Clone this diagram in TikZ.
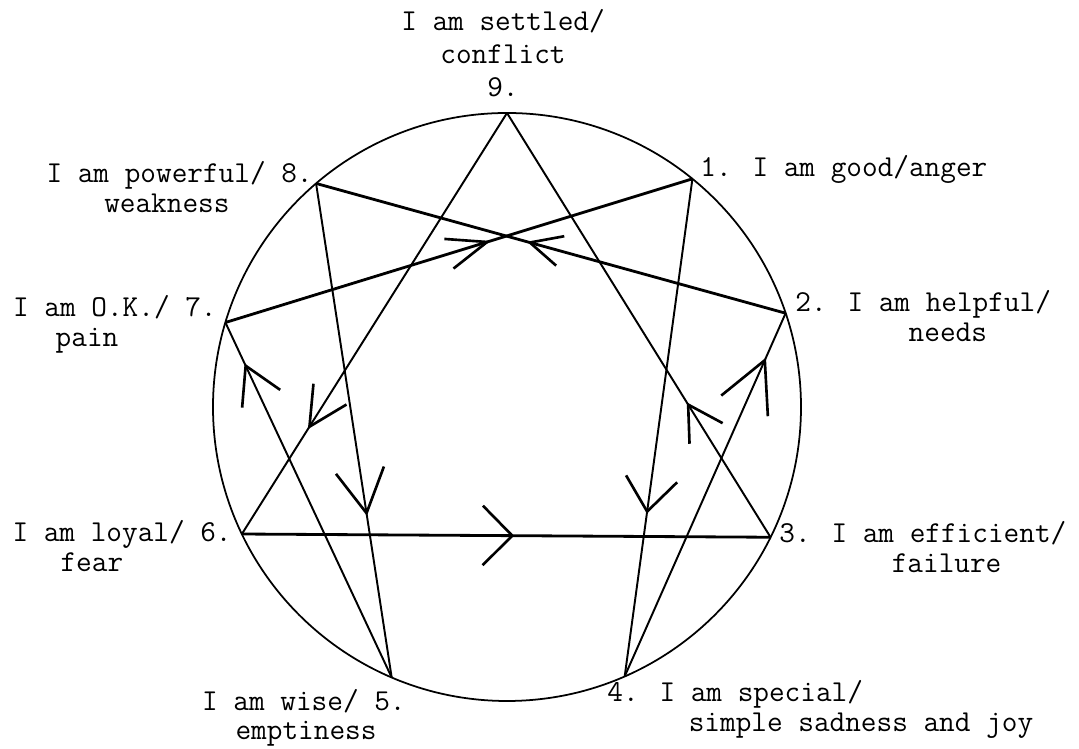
\documentclass[tikz,border=0pt]{standalone}
\usepackage{amsmath}
\usepackage{tikz}
\usetikzlibrary{arrows.meta,decorations.markings}

\tikzset{
  thinline/.style={line width=1.1pt},
  thickline/.style={line width=1.6pt},
  midbarb/.style n args={3}{postaction={decorate,decoration={markings,
      mark=at position #1 with {\arrow[line width=1.5pt,line cap=round]{Straight Barb[length=#2,width=#3]}}}}},
  ptext/.style={inner sep=0pt,font=\fontsize{17.3}{17.07}\selectfont\ttfamily}
}

\begin{document}
\begin{tikzpicture}[x=0.02cm,y=0.02cm]
	\useasboundingbox (0,0) rectangle (1079,749);
	% the circle and its nine points
	\coordinate (c) at (507,342);
	\draw[line width=1pt] (c) circle (294);
	\foreach \n/\a in {9/90,1/50.9,2/18.6,3/-26.3,4/-66.4,5/-113.1,6/-154.4,7/163.3,8/130.5}
		\path (c) ++(\a:294) coordinate (p\n);
	% the triangle 9-6-3
	\draw[thinline,midbarb={0.751}{0.77cm}{0.78cm}] (p9) -- (p6);
	\draw[thickline,midbarb={0.515}{0.59cm}{1.19cm}] (p6) -- (p3);
	\draw[thinline,midbarb={0.318}{0.68cm}{0.78cm}] (p3) -- (p9);
	% the figure 1-4-2-8-5-7
	\draw[thinline,midbarb={0.673}{0.66cm}{1.03cm}] (p1) -- (p4);
	\draw[thinline,midbarb={0.878}{1.0cm}{1.02cm}] (p4) -- (p2);
	\draw[thickline,midbarb={0.551}{0.63cm}{0.61cm}] (p2) -- (p8);
	\draw[thinline,midbarb={0.673}{0.87cm}{0.97cm}] (p8) -- (p5);
	\draw[thinline,midbarb={0.885}{0.73cm}{0.84cm}] (p5) -- (p7);
	\draw[thickline,midbarb={0.568}{0.8cm}{0.62cm}] (p7) -- (p1);
	% labels (base = baseline of the last line)
	\node[ptext,anchor=base,align=center] (l9) at (503,652) {I am settled/\\[0.07cm]conflict\\[0.07cm]9.};
	\node[ptext,anchor=base west] (l1) at (700,572) {1. I am good/anger};
	\node[ptext,anchor=base west,align=left] (l2) at (795,407) {2. I am helpful/\\\hspace*{3.73em}needs};
	\node[ptext,anchor=base west,align=left] (l3) at (779,176) {3. I am efficient/\\\hspace*{3.7em}failure};
	\node[ptext,anchor=base west,align=left] (l4) at (607,17) {4. I am special/\\\hspace*{2.68em}simple sadness and joy};
	\node[ptext,anchor=base east,align=left] (l5) at (406,9) {I am wise/ 5.\\\hspace*{1.1em}emptiness};
	\node[ptext,anchor=base east,align=left] (l6) at (232,177) {I am loyal/ 6.\\\hspace*{1.58em}fear};
	\node[ptext,anchor=base east,align=left] (l7) at (217,402) {I am O.K./ 7.\\\hspace*{1.4em}pain};
	\node[ptext,anchor=base east,align=left] (l8) at (313,536) {I am powerful/ 8.\\\hspace*{1.9em}weakness};
\end{tikzpicture}
\end{document}
